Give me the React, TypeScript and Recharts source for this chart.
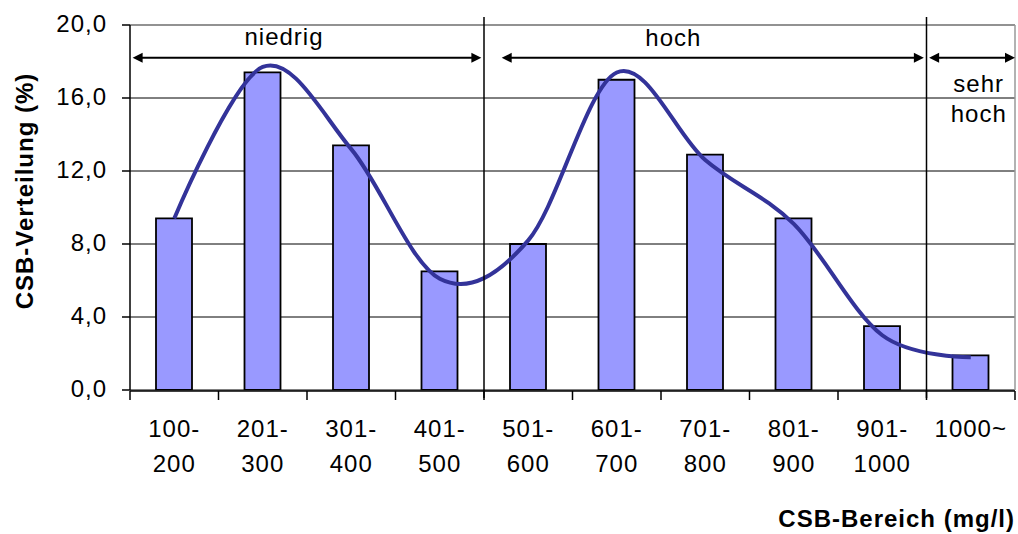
import React from 'react';
import { ComposedChart, Bar, Line, XAxis, YAxis, CartesianGrid, ReferenceLine, ReferenceDot } from 'recharts';

const ranges = ['100-200', '201-300', '301-400', '401-500', '501-600', '601-700', '701-800', '801-900', '901-1000', '1000~'];
const shares = [9.4, 17.4, 13.4, 6.5, 8.0, 17.0, 12.9, 9.4, 3.5, 1.9];
const trend = [9.4, 17.7, 13.2, 6.1, 8.2, 17.4, 12.6, 9.1, 3.0, 1.8];
const yTicks = [0, 4, 8, 12, 16, 20];
const bounds = [0, 1, 2, 3, 4, 5, 6, 7, 8, 9, 10];
const dividers = [4, 9];
const arrowLevel = 18.2;
const arrows = [
  { from: 0.03, to: 3.97 },
  { from: 4.2, to: 8.97 },
  { from: 9.03, to: 10 },
];
const classLabels = [
  { text: 'niedrig', x: 1.74, y: 19.37 },
  { text: 'hoch', x: 6.14, y: 19.32 },
  { text: 'sehr', x: 9.59, y: 16.79 },
  { text: 'hoch', x: 9.59, y: 15.15 },
];

const rows = ranges.map((range, i) => ({ range, share: shares[i], trend: trend[i] }));

const FONT = '"Liberation Sans", Arial, sans-serif';

// smooth line like Excel's "smoothed line" (Catmull-Rom through the points)
const smooth = (context: any) => {
  let x0 = NaN, y0 = NaN, x1 = NaN, y1 = NaN, x2 = NaN, y2 = NaN;
  let pt = 0;
  let line = NaN;
  const k = 1 / 6;
  const seg = (x: number, y: number) => {
    context.bezierCurveTo(x1 + k * (x2 - x0), y1 + k * (y2 - y0), x2 + k * (x1 - x), y2 + k * (y1 - y), x2, y2);
  };
  return {
    areaStart() { line = 0; },
    areaEnd() { line = NaN; },
    lineStart() { x0 = x1 = x2 = y0 = y1 = y2 = NaN; pt = 0; },
    lineEnd() {
      if (pt === 2) context.lineTo(x2, y2);
      else if (pt === 3) seg(x1, y1);
      if (line || (line !== 0 && pt === 1)) context.closePath();
      line = 1 - line;
    },
    point(x: number, y: number) {
      x = +x; y = +y;
      if (pt === 0) {
        pt = 1;
        if (line) context.lineTo(x, y); else context.moveTo(x, y);
      } else if (pt === 1) {
        pt = 2; x1 = x; y1 = y;
      } else {
        pt = 3; seg(x, y);
      }
      x0 = x1; x1 = x2; x2 = x;
      y0 = y1; y1 = y2; y2 = y;
    },
  };
};

const RangeTick = (props: any) => {
  const { x, y, payload } = props;
  const label: string = String(payload.value);
  const i = label.indexOf('-');
  const lines = i >= 0 ? [label.slice(0, i + 1), label.slice(i + 1)] : [label];
  return (
    <text textAnchor="middle" fontSize={24} fontFamily={FONT} fill="#000" letterSpacing={1}>
      {lines.map((l, k) => (
        <tspan key={k} x={x} y={y + 47 + k * 35}>{l}</tspan>
      ))}
    </text>
  );
};

// boundary ticks only draw their tick line
const NoLabel = () => <g />;

const ArrowShape = (p: any) => {
  const xa = Math.min(p.x1, p.x2);
  const xb = Math.max(p.x1, p.x2);
  const y = p.y1;
  return (
    <g>
      <line x1={xa + 6} y1={y} x2={xb - 6} y2={y} stroke="#000" strokeWidth={2} />
      <polygon points={`${xa},${y} ${xa + 10},${y - 5} ${xa + 10},${y + 5}`} fill="#000" />
      <polygon points={`${xb},${y} ${xb - 10},${y - 5} ${xb - 10},${y + 5}`} fill="#000" />
    </g>
  );
};

const DividerShape = (p: any) => {
  const top = Math.min(p.y1, p.y2);
  const bottom = Math.max(p.y1, p.y2);
  return <line x1={p.x1} y1={top - 8} x2={p.x2} y2={bottom + 8} stroke="#000" strokeWidth={1.5} />;
};

const YTitle = (props: any) => {
  const vb = props.viewBox || { x: 0, y: 25, width: 130, height: 365 };
  const cx = vb.x + 33;
  const cy = vb.y + 166;
  return (
    <text x={cx} y={cy} transform={`rotate(-90, ${cx}, ${cy})`} textAnchor="middle" fontSize={24}
      fontWeight="bold" fontFamily={FONT} fill="#000" letterSpacing={1}>
      CSB-Verteilung (%)
    </text>
  );
};

const XTitle = (props: any) => {
  const vb = props.viewBox || { x: 130, y: 390, width: 885, height: 1 };
  return (
    <text x={vb.x + vb.width} y={vb.y + 137} textAnchor="end" fontSize={24} fontWeight="bold"
      fontFamily={FONT} fill="#000" letterSpacing={1}>
      CSB-Bereich (mg/l)
    </text>
  );
};

export default function App() {
  return (
    <div style={{ position: 'absolute', left: 0, top: 0, background: '#fff' }}>
      <ComposedChart width={1018} height={534} data={rows} margin={{ top: 25, right: 3, bottom: 142, left: 0 }}>
        <CartesianGrid vertical={false} stroke="#000" strokeWidth={1} />
        <XAxis xAxisId="num" dataKey="none" type="number" domain={[0, 10]} ticks={bounds} allowDataOverflow
          height={1} tick={NoLabel} tickSize={9} axisLine={{ stroke: '#000', strokeWidth: 1.5 }}
          tickLine={{ stroke: '#000', strokeWidth: 1.5 }} />
        <XAxis dataKey="range" interval={0} height={1} axisLine={false} tickLine={false}
          tickSize={0} tickMargin={0} tick={<RangeTick />} label={XTitle} />
        <YAxis width={130} domain={[0, 20]} ticks={yTicks} allowDataOverflow tickSize={8} tickMargin={15}
          tickFormatter={(v: number) => v.toFixed(1).replace('.', ',')}
          tick={{ fontSize: 24, fontFamily: FONT, fill: '#000', letterSpacing: 1, dy: -2 }}
          axisLine={{ stroke: '#000', strokeWidth: 1.5 }} tickLine={{ stroke: '#000', strokeWidth: 1.5 }}
          label={YTitle} />
        <ReferenceLine y={20} stroke="#999" strokeWidth={1.5} />
        <ReferenceLine xAxisId="num" x={10} stroke="#999" strokeWidth={1.5} ifOverflow="visible" />
        <Bar dataKey="share" fill="#9999FF" stroke="#000" strokeWidth={1.8} barSize={36} isAnimationActive={false} />
        <Line dataKey="trend" type={smooth as any} stroke="#333399" strokeWidth={4} dot={false}
          activeDot={false} isAnimationActive={false} />
        {dividers.map((d) => (
          <ReferenceLine key={`d${d}`} xAxisId="num" x={d} shape={DividerShape} ifOverflow="visible" />
        ))}
        {arrows.map((a, i) => (
          <ReferenceLine key={`a${i}`} xAxisId="num" ifOverflow="visible"
            segment={[{ x: a.from, y: arrowLevel }, { x: a.to, y: arrowLevel }]} shape={ArrowShape} />
        ))}
        {classLabels.map((c, i) => (
          <ReferenceDot key={`l${i}`} xAxisId="num" x={c.x} y={c.y} r={0} fill="none" stroke="none"
            ifOverflow="visible"
            label={{ value: c.text, position: 'center', fontSize: 24, fontFamily: FONT, fill: '#000', letterSpacing: 1 }} />
        ))}
      </ComposedChart>
    </div>
  );
}
